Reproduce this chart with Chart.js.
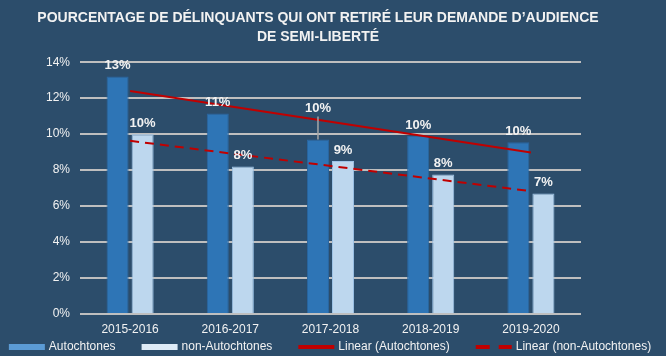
<!DOCTYPE html>
<html>
<head>
<meta charset="utf-8">
<script src="https://cdn.jsdelivr.net/npm/chart.js@4"></script>
<style>
  html, body { margin: 0; padding: 0; background: #2C4D6B; }
  #wrap { width: 666px; height: 356px; position: relative; }
</style>
</head>
<body>
<div id="wrap"><canvas id="c" width="666" height="356"></canvas></div>
<script>
// ---- data ----
const categories = ['2015-2016', '2016-2017', '2017-2018', '2018-2019', '2019-2020'];
const autochtones = [13.2, 11.15, 9.7, 9.9, 9.55];
const nonAutochtones = [10.0, 8.2, 8.5, 7.75, 6.7];
const autLabels = ['13%', '11%', '10%', '10%', '10%'];
const nonAutLabels = ['10%', '8%', '9%', '8%', '7%'];
// trend lines (start and end points only)
const trendAut = [12.4, null, null, null, 8.98];
const trendNonAut = [9.63, null, null, null, 6.83];
const yTicks = [0, 2, 4, 6, 8, 10, 12, 14];
const titleLines = ['POURCENTAGE DE DÉLINQUANTS QUI ONT RETIRÉ LEUR DEMANDE D\u2019AUDIENCE', 'DE SEMI-LIBERTÉ'];

const FONT = "'Liberation Sans', Arial, sans-serif";
const TEXT = '#F2F2F2';

const barLabelsPlugin = {
  id: 'barLabels',
  afterDatasetsDraw(chart, args, opts) {
    const ctx = chart.ctx;
    ctx.save();
    ctx.font = 'bold 13px ' + FONT;
    ctx.fillStyle = TEXT;
    ctx.textAlign = 'center';
    ctx.textBaseline = 'middle';
    chart.data.datasets.forEach((ds, di) => {
      if (!ds.valueLabels) return;
      const meta = chart.getDatasetMeta(di);
      meta.data.forEach((el, i) => {
        const lift = (opts.lift[di] && opts.lift[di][i]) || 11;
        const y = el.y - lift;
        if (lift > 11) {
          ctx.strokeStyle = '#A6A6A6';
          ctx.lineWidth = 1.5;
          ctx.beginPath();
          ctx.moveTo(el.x, y + 8);
          ctx.lineTo(el.x, el.y);
          ctx.stroke();
        }
        ctx.fillText(ds.valueLabels[i], el.x, y);
      });
    });
    ctx.restore();
  }
};

const legendPlugin = {
  id: 'bottomLegend',
  afterDraw(chart, args, opts) {
    const ctx = chart.ctx;
    ctx.save();
    ctx.font = '12px ' + FONT;
    ctx.textBaseline = 'middle';
    ctx.textAlign = 'left';
    const items = chart.data.datasets.filter(ds => ds.label).map(ds => ({
      text: ds.label,
      kind: ds.type === 'line' ? 'line' : 'box',
      color: ds.legendColor || ds.borderColor,
      dash: ds.borderDash || []
    }));
    const bw = 36, gap = 4, pad = 26;
    let total = 0;
    items.forEach(it => { it.w = bw + gap + ctx.measureText(it.text).width; total += it.w; });
    total += pad * (items.length - 1);
    let x = opts.centerX - total / 2;
    const y = opts.y;
    items.forEach(it => {
      if (it.kind === 'box') {
        ctx.fillStyle = it.color;
        ctx.fillRect(x, y - 3, bw, 6);
      } else {
        ctx.strokeStyle = it.color;
        ctx.lineWidth = 4;
        ctx.setLineDash(it.dash.length ? [14, 9] : []);
        ctx.beginPath();
        ctx.moveTo(x, y);
        ctx.lineTo(x + bw, y);
        ctx.stroke();
        ctx.setLineDash([]);
      }
      ctx.fillStyle = TEXT;
      ctx.fillText(it.text, x + bw + gap, y);
      x += it.w + pad;
    });
    ctx.restore();
  }
};

const bgPlugin = {
  id: 'bg',
  beforeDraw(chart) {
    const ctx = chart.ctx;
    ctx.save();
    ctx.fillStyle = '#2C4D6B';
    ctx.fillRect(0, 0, chart.width, chart.height);
    ctx.restore();
  }
};

new Chart(document.getElementById('c'), {
  type: 'bar',
  data: {
    labels: categories,
    datasets: [
      {
        label: 'Autochtones',
        data: autochtones,
        valueLabels: autLabels,
        backgroundColor: '#2E75B6',
        borderColor: '#2A66A0',
        legendColor: '#5B9BD5',
        borderWidth: 1,
        categoryPercentage: 0.5,
        barPercentage: 0.88,
        order: 2
      },
      {
        label: 'non-Autochtones',
        data: nonAutochtones,
        valueLabels: nonAutLabels,
        backgroundColor: '#BDD7EE',
        borderColor: '#9DC3E6',
        legendColor: '#DEEBF7',
        borderWidth: 1,
        categoryPercentage: 0.5,
        barPercentage: 0.88,
        order: 2
      },
      {
        type: 'line',
        label: 'Linear (Autochtones)',
        data: trendAut,
        borderColor: '#C00000',
        borderWidth: 2,
        pointRadius: 0,
        spanGaps: true,
        fill: false,
        order: 1
      },
      {
        type: 'line',
        label: 'Linear (non-Autochtones)',
        data: trendNonAut,
        borderColor: '#C00000',
        borderWidth: 2,
        borderDash: [9, 6],
        pointRadius: 0,
        spanGaps: true,
        fill: false,
        order: 1
      }
    ]
  },
  options: {
    responsive: false,
    animation: false,
    devicePixelRatio: 1,
    layout: { padding: { left: 0, right: 30, top: 0, bottom: 0 } },
    scales: {
      x: {
        grid: { display: false, drawTicks: false },
        border: { display: false },
        ticks: { color: TEXT, font: { family: FONT, size: 12 }, padding: 8 },
        afterFit(s) { s.height = 42; }
      },
      y: {
        min: 0,
        max: 14,
        afterBuildTicks(s) { s.ticks = yTicks.map(v => ({ value: v })); },
        grid: { color: '#BFBFBF', lineWidth: 2, drawTicks: false },
        border: { display: false },
        ticks: {
          color: TEXT,
          font: { family: FONT, size: 12 },
          padding: 10,
          callback: v => v + '%'
        },
        afterFit(s) { s.width = 80; }
      },
      yRight: {
        position: 'right',
        min: 0,
        max: 14,
        grid: { display: false, drawTicks: false },
        border: { display: false },
        ticks: { display: false },
        afterFit(s) { s.width = 55; }
      }
    },
    plugins: {
      legend: { display: false },
      tooltip: { enabled: false },
      title: {
        display: true,
        text: titleLines,
        color: TEXT,
        font: { family: FONT, size: 14, weight: 'bold', lineHeight: 1.4 },
        padding: { top: 8, bottom: 15 }
      },
      barLabels: { lift: { 0: { 2: 31 } } },
      bottomLegend: { centerX: 330, y: 347 }
    }
  },
  plugins: [bgPlugin, barLabelsPlugin, legendPlugin]
});
</script>
</body>
</html>
